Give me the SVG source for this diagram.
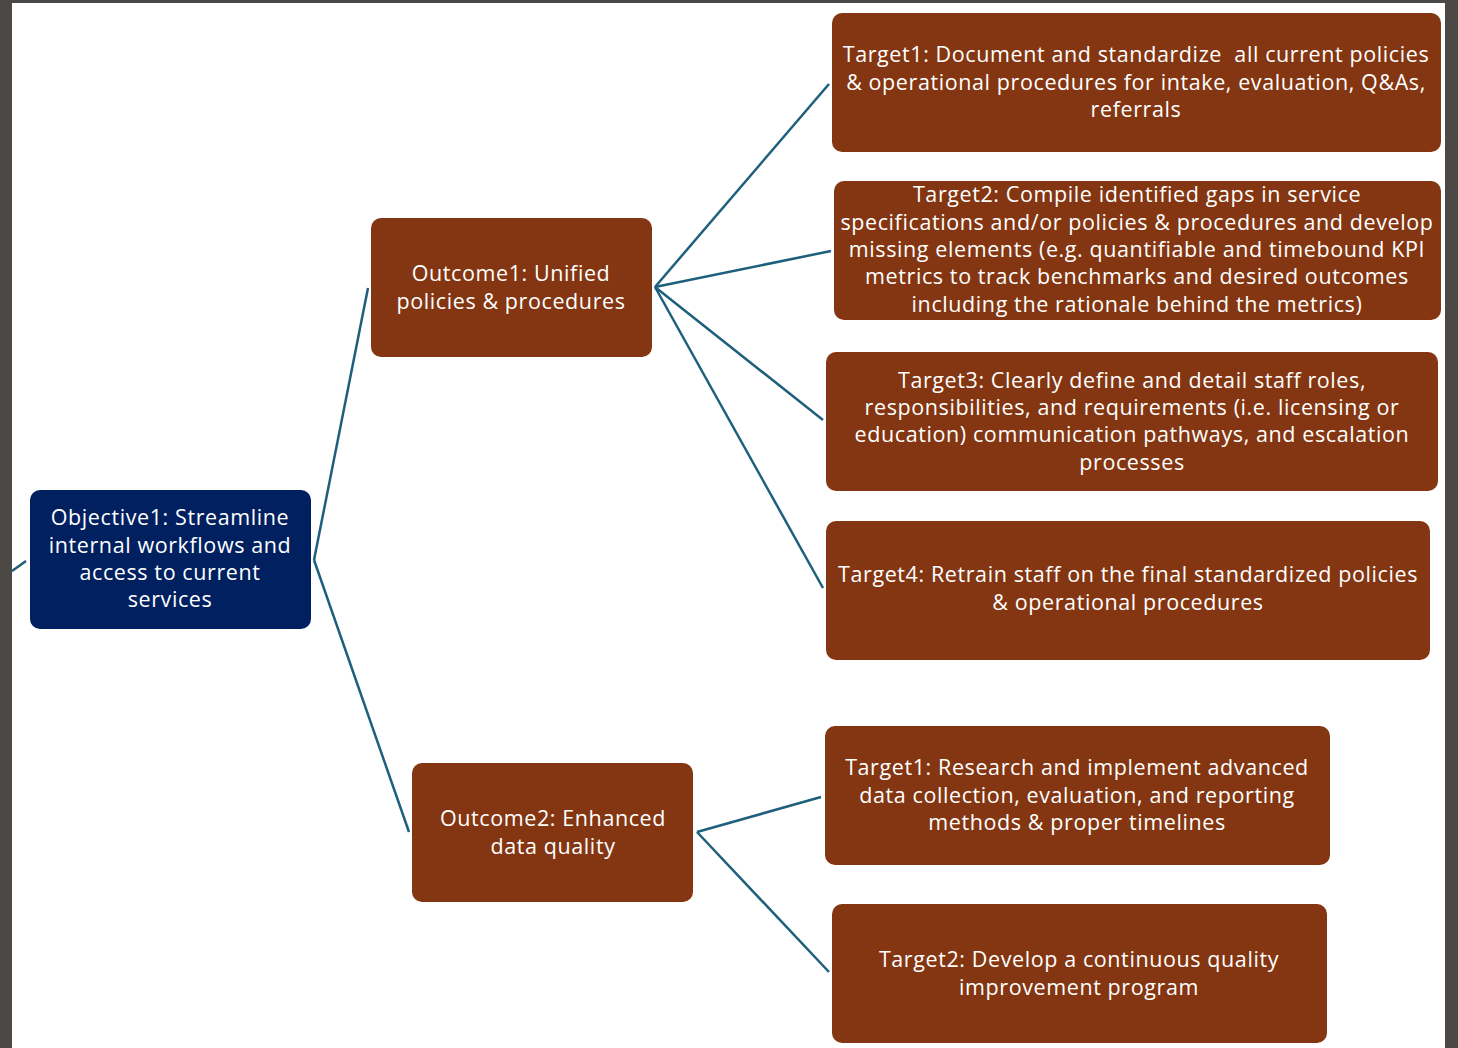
<svg xmlns="http://www.w3.org/2000/svg" width="1458" height="1048" viewBox="0 0 1458 1048">
  <style>
    .node { fill: #833611; }
    .root { fill: #002060; }
    .lbl { font-family: "Open Sans", "Liberation Sans", Arial, sans-serif; font-size: 21.5px; letter-spacing: 0.6px; fill: #ffffff; text-anchor: middle; }
    .link { stroke: #1e5f7c; stroke-width: 2.5; fill: none; }
  </style>
  <!-- page backdrop -->
  <rect x="0" y="0" width="1458" height="1048" fill="#4b4845"/>
  <rect x="12" y="3" width="1433" height="1045" fill="#ffffff"/>

  <g id="connectors">
    <line class="link" x1="12" y1="571" x2="26" y2="561"/>
    <line class="link" x1="314" y1="560" x2="368" y2="288"/>
    <line class="link" x1="314" y1="560" x2="409" y2="832"/>
    <line class="link" x1="655" y1="287" x2="829" y2="84"/>
    <line class="link" x1="655" y1="287" x2="831" y2="251"/>
    <line class="link" x1="655" y1="287" x2="823" y2="420"/>
    <line class="link" x1="655" y1="287" x2="823" y2="588"/>
    <line class="link" x1="697" y1="832" x2="821" y2="797"/>
    <line class="link" x1="697" y1="832" x2="829" y2="972"/>
  </g>

  <g id="objective1">
    <rect class="root" x="30" y="490" width="281" height="139" rx="10"/>
    <text class="lbl" x="170"><tspan x="170" y="525">Objective1: Streamline</tspan><tspan x="170" y="553">internal workflows and</tspan><tspan x="170" y="580">access to current</tspan><tspan x="170" y="607">services</tspan></text>
  </g>

  <g id="outcome1">
    <rect class="node" x="371" y="218" width="281" height="139" rx="10"/>
    <text class="lbl"><tspan x="511" y="281">Outcome1: Unified</tspan><tspan x="511" y="309">policies &amp; procedures</tspan></text>
  </g>

  <g id="outcome2">
    <rect class="node" x="412" y="763" width="281" height="139" rx="10"/>
    <text class="lbl"><tspan x="553" y="826">Outcome2: Enhanced</tspan><tspan x="553" y="854">data quality</tspan></text>
  </g>

  <g id="o1-target1">
    <rect class="node" x="832" y="13" width="609" height="139" rx="10"/>
    <text class="lbl" xml:space="preserve"><tspan x="1136" y="62">Target1: Document and standardize  all current policies</tspan><tspan x="1136" y="90">&amp; operational procedures for intake, evaluation, Q&amp;As,</tspan><tspan x="1136" y="117">referrals</tspan></text>
  </g>

  <g id="o1-target2">
    <rect class="node" x="834" y="181" width="607" height="139" rx="10"/>
    <text class="lbl"><tspan x="1137" y="202">Target2: Compile identified gaps in service</tspan><tspan x="1137" y="230">specifications and/or policies &amp; procedures and develop</tspan><tspan x="1137" y="257">missing elements (e.g. quantifiable and timebound KPI</tspan><tspan x="1137" y="284">metrics to track benchmarks and desired outcomes</tspan><tspan x="1137" y="312">including the rationale behind the metrics)</tspan></text>
  </g>

  <g id="o1-target3">
    <rect class="node" x="826" y="352" width="612" height="139" rx="10"/>
    <text class="lbl"><tspan x="1132" y="388">Target3: Clearly define and detail staff roles,</tspan><tspan x="1132" y="415">responsibilities, and requirements (i.e. licensing or</tspan><tspan x="1132" y="442">education) communication pathways, and escalation</tspan><tspan x="1132" y="470">processes</tspan></text>
  </g>

  <g id="o1-target4">
    <rect class="node" x="826" y="521" width="604" height="139" rx="10"/>
    <text class="lbl"><tspan x="1128" y="582">Target4: Retrain staff on the final standardized policies</tspan><tspan x="1128" y="610">&amp; operational procedures</tspan></text>
  </g>

  <g id="o2-target1">
    <rect class="node" x="825" y="726" width="505" height="139" rx="10"/>
    <text class="lbl"><tspan x="1077" y="775">Target1: Research and implement advanced</tspan><tspan x="1077" y="803">data collection, evaluation, and reporting</tspan><tspan x="1077" y="830">methods &amp; proper timelines</tspan></text>
  </g>

  <g id="o2-target2">
    <rect class="node" x="832" y="904" width="495" height="139" rx="10"/>
    <text class="lbl"><tspan x="1079" y="967">Target2: Develop a continuous quality</tspan><tspan x="1079" y="995">improvement program</tspan></text>
  </g>
</svg>
